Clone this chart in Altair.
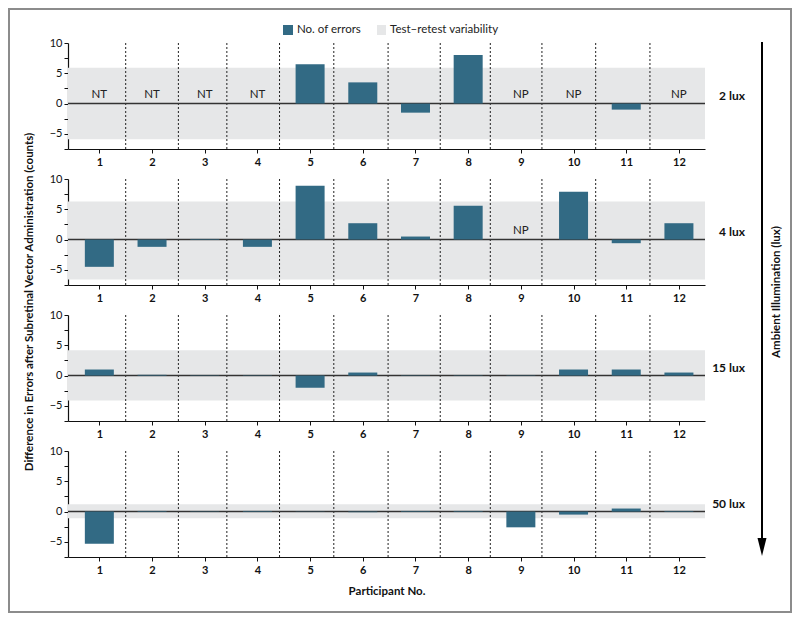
import altair as alt
import pandas as pd

# ---------------- data ----------------
participants = list(range(1, 13))
lux_labels = ["2 lux", "4 lux", "15 lux", "50 lux"]
errors_2lux = [None, None, None, None, 6.5, 3.5, -1.5, 8.0, None, None, -1.0, None]
errors_4lux = [-4.5, -1.2, 0.1, -1.2, 8.9, 2.7, 0.5, 5.6, None, 7.9, -0.6, 2.7]
errors_15lux = [1.0, 0.12, 0.06, -0.06, -2.0, 0.5, 0.06, 0.06, 0.06, 1.0, 1.0, 0.5]
errors_50lux = [-5.3, 0.1, 0.06, 0.1, 0.06, -0.1, 0.1, 0.1, -2.6, -0.5, 0.5, 0.1]
notes_2lux = ["NT", "NT", "NT", "NT", "", "", "", "", "NP", "NP", "", "NP"]
notes_4lux = ["", "", "", "", "", "", "", "", "NP", "", "", ""]
notes_15lux = ["", "", "", "", "", "", "", "", "", "", "", ""]
notes_50lux = ["", "", "", "", "", "", "", "", "", "", "", ""]
band_upper = [5.9, 6.3, 4.2, 1.2]
band_lower = [-5.9, -6.6, -4.1, -1.1]
divider_positions = [1.5, 2.5, 3.42, 4.42, 5.45, 6.48, 7.47, 8.42, 9.4, 10.42, 11.45]
y_ticks = [-7.5, -5, -2.5, 0, 2.5, 5, 7.5, 10]
legend_labels = ["No. of errors", "Test–retest variability"]
y_title = "Difference in Errors after Subretinal Vector Administration (counts)"
x_title = "Participant No."
arrow_title = "Ambient Illumination (lux)"

all_errors = [errors_2lux, errors_4lux, errors_15lux, errors_50lux]
all_notes = [notes_2lux, notes_4lux, notes_15lux, notes_50lux]

# ---------------- style ----------------
FONT = "Lato"
BAR = "#326a84"
BAND = "#e6e7e8"
INK = "#111111"
W, H = 637, 106

xscale = alt.Scale(domain=[0.5, 12.4], nice=False, zero=False)
yscale = alt.Scale(domain=[-7.5, 10], nice=False, zero=False)


def make_panel(i):
    first = i == 0
    last = i == 3
    yaxis = alt.Axis(values=y_ticks, tickCount=20,
                     labelExpr="datum.value % 5 == 0 ? format(datum.value, 'd') : ''",
                     title=None, domain=True, ticks=True, tickSize=4, grid=False,
                     labelPadding=2, labelOverlap=False, labelFont=FONT,
                     labelFontSize=11, labelColor=INK, domainColor=INK,
                     tickColor=INK, domainWidth=1.2, tickWidth=1)
    xaxis = alt.Axis(values=participants, tickCount=20, format="d",
                     title=x_title if last else None,
                     domain=True, ticks=True, labelFontWeight="bold", tickSize=4,
                     grid=False, labelPadding=3, titlePadding=10,
                     titleFontWeight="bold", titleFontSize=11.5, titleFont=FONT,
                     titleColor=INK, labelFont=FONT, labelFontSize=11,
                     labelColor=INK, domainColor=INK, tickColor=INK,
                     domainWidth=1.2, tickWidth=1, labelOverlap=False)

    band = alt.Chart(pd.DataFrame({"lo": [band_lower[i]], "hi": [band_upper[i]]})).mark_rect(
        color=BAND).encode(
        x=alt.value(0), x2=alt.value(W),
        y=alt.Y("hi:Q", scale=yscale, axis=yaxis), y2="lo:Q")

    dividers = alt.Chart(pd.DataFrame({"pos": divider_positions})).mark_rule(
        strokeDash=[2, 2], color="#222222", strokeWidth=1).encode(
        x=alt.X("pos:Q", scale=xscale, axis=xaxis),
        y=alt.value(0), y2=alt.value(H))

    zero = alt.Chart(pd.DataFrame({"zero": [0]})).mark_rule(
        color="#333333", strokeWidth=1.5).encode(
        y=alt.Y("zero:Q", axis=yaxis), x=alt.value(0), x2=alt.value(W))

    df = pd.DataFrame({"participant": participants, "value": all_errors[i], "note": all_notes[i]})
    bars = alt.Chart(df.dropna(subset=["value"])).mark_bar(
        size=29, orient="vertical", color=BAR).encode(
        x=alt.X("participant:Q", axis=xaxis), y=alt.Y("value:Q", axis=yaxis),
        y2=alt.datum(0))

    notes_df = df[df["note"] != ""]
    layers = [band, dividers, zero, bars]
    if len(notes_df):
        layers.append(alt.Chart(notes_df).mark_text(
            dy=-9, fontSize=11.5, color="#222222", font=FONT).encode(
            x=alt.X("participant:Q", axis=xaxis), y=alt.datum(0), text="note:N"))

    layers.append(alt.Chart(pd.DataFrame({"lux": [lux_labels[i]]})).mark_text(
        align="right", baseline="middle", dy=-8, fontWeight="bold", fontSize=12,
        font=FONT, color=INK).encode(
        x=alt.value(677), y=alt.datum(0), text="lux:N"))

    if first:
        frame = alt.Chart(pd.DataFrame({"f": [0]})).mark_rect(
            fill="white", fillOpacity=0, stroke="#8c8c8c", strokeWidth=2).encode(
            x=alt.value(-59), x2=alt.value(723), y=alt.value(-34), y2=alt.value(569))
        leg_df = pd.DataFrame({"label": legend_labels,
                               "sx": [215, 309], "sx2": [225, 318],
                               "tx": [229, 322], "col": [BAR, BAND]})
        leg_sq = alt.Chart(leg_df).mark_rect().encode(
            x=alt.X("sx:Q", scale=None), x2="sx2:Q",
            y=alt.value(-18), y2=alt.value(-8),
            color=alt.Color("col:N", scale=None, legend=None))
        leg_tx = alt.Chart(leg_df).mark_text(
            align="left", baseline="middle", fontSize=11.5, font=FONT, color="#222222").encode(
            x=alt.X("tx:Q", scale=None), y=alt.value(-13), text="label:N")
        ytitle = alt.Chart(pd.DataFrame({"t": [y_title]})).mark_text(
            angle=270, fontWeight="bold", fontSize=11.5, font=FONT, color=INK).encode(
            x=alt.value(-38), y=alt.value(259), text="t:N")
        arrow = alt.Chart(pd.DataFrame({"a": [arrow_title]})).mark_rule(
            color="black", strokeWidth=2).encode(
            x=alt.value(694), y=alt.value(-1), y2=alt.value(500))
        head = alt.Chart(pd.DataFrame({"a": [arrow_title]})).mark_point(
            shape="M-0.5,-1L0.5,-1L0,1Z", size=324, filled=True, color="black",
            opacity=1).encode(x=alt.value(694), y=alt.value(504))
        atitle = alt.Chart(pd.DataFrame({"a": [arrow_title]})).mark_text(
            angle=270, fontWeight="bold", fontSize=11.5, font=FONT, color=INK).encode(
            x=alt.value(709), y=alt.value(249), text="a:N")
        layers = [frame] + layers + [leg_sq, leg_tx, ytitle, arrow, head, atitle]

    return alt.layer(*layers).properties(width=W, height=H)


chart = alt.vconcat(*[make_panel(i) for i in range(4)], spacing=30, bounds="flush").properties(
    padding=0, background="white"
).configure_view(stroke=None)

chart.save("out.html", embed_options={"renderer": "svg", "actions": False})
